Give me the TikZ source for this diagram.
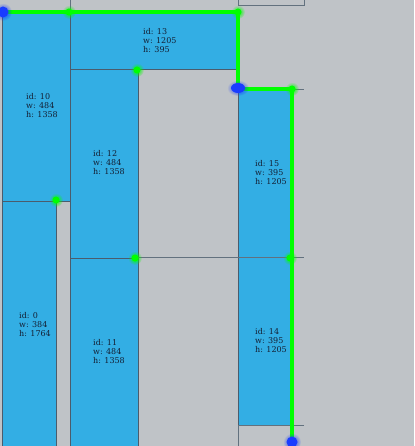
\documentclass[tikz,border=0pt]{standalone}
\usepackage{fontspec}
\setmainfont{DejaVu Serif}
\usetikzlibrary{fadings}
\definecolor{fondo}{RGB}{191,195,199}
\definecolor{bloque}{RGB}{51,174,228}
\definecolor{borde}{RGB}{75,92,108}
\definecolor{texto}{RGB}{20,30,50}
\definecolor{verde}{RGB}{0,255,0}
\definecolor{azul}{RGB}{25,60,255}
\tikzfading[name=halo, inner color=transparent!0, outer color=transparent!100]
\begin{document}
\begin{tikzpicture}[x=1pt, y=-1pt,
    bloque/.style={fill=bloque, draw=borde, line width=0.7pt},
    linea/.style={draw=borde!80!fondo, line width=0.7pt},
    etiqueta/.style={font=\fontsize{8}{9}\selectfont, text=texto, align=left, anchor=north west, inner sep=0pt},
    camino/.style={verde, line width=3.3pt},
    brillo/.style={fill=verde, path fading=halo},
    nodo/.style={fill=azul, path fading=halo}]
    % Fondo
    \fill[fondo] (0,0) rectangle (414,446);
    \useasboundingbox (0,0) rectangle (414,446);
    \clip (0,0) rectangle (414,446);
    % Bloques colocados
    \draw[bloque] (2,12) rectangle (70,201);
    \draw[bloque] (2,201) rectangle (56,452);
    \draw[bloque] (70,12) rectangle (238,69);
    \draw[bloque] (70,69) rectangle (138,258);
    \draw[bloque] (70,258) rectangle (138,452);
    \draw[bloque] (238,89) rectangle (292,257);
    \draw[bloque] (238,257) rectangle (292,425);
    % Bordes sueltos
    \draw[linea] (70,0) -- (70,12);
    \draw[linea] (238,0) -- (238,5) -- (304,5) -- (304,0);
    \draw[linea] (138,257.5) -- (304,257.5);
    \draw[linea] (292,89) -- (304,89);
    \draw[linea] (304,425) -- (238,425) -- (238,452);
    % Etiquetas
    \node[etiqueta] (t10) at (26,93)  {id: 10\\w: 484\\h: 1358};
    \node[etiqueta] (t13) at (143,28) {id: 13\\w: 1205\\h: 395};
    \node[etiqueta] (t12) at (93,150) {id: 12\\w: 484\\h: 1358};
    \node[etiqueta] (t0)  at (19,312) {id: 0\\w: 384\\h: 1764};
    \node[etiqueta] (t11) at (93,339) {id: 11\\w: 484\\h: 1358};
    \node[etiqueta] (t15) at (255,160) {id: 15\\w: 395\\h: 1205};
    \node[etiqueta] (t14) at (255,328) {id: 14\\w: 395\\h: 1205};
    % Contorno (skyline)
    \coordinate (c0) at (3,12);
    \coordinate (c1) at (238,12);
    \coordinate (c2) at (238,89);
    \coordinate (c3) at (292,89);
    \coordinate (c4) at (292,452);
    \draw[camino] (c0) -- (c1) -- (c2) -- (c3) -- (c4);
    % Puntos candidatos
    \foreach \px/\py in {69/12, 238/12, 137/70, 56/200, 135/258, 292/89, 290/258} {
        \fill[brillo] (\px,\py) circle (7);
        \fill[verde] (\px,\py) circle (3.5);
    }
    \foreach \px/\py in {3/12, 292/442} {
        \fill[nodo] (\px,\py) circle (9);
        \fill[azul] (\px,\py) circle (5.5);
    }
    \fill[nodo] (238,88) ellipse (11 and 8);
    \fill[azul] (238,88) ellipse (7 and 5);
\end{tikzpicture}
\end{document}
